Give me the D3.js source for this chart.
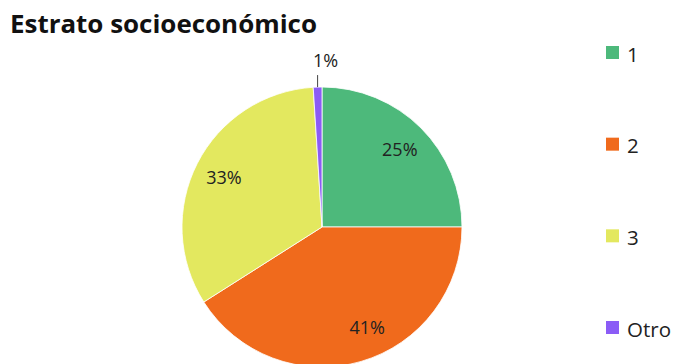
<!DOCTYPE html>
<html>
<head>
<meta charset="utf-8">
<script src="https://cdn.jsdelivr.net/npm/d3@7/dist/d3.min.js"></script>
<style>
  html, body { margin: 0; padding: 0; background: #fff; }
  svg { display: block; }
</style>
</head>
<body>
<svg id="chart" width="674" height="364"></svg>
<script>
// Socio-economic stratum distribution (percent of respondents)
const categories = ["1", "2", "3", "Otro"];
const values = [25, 41, 33, 1];
const colors = ["#4db97b", "#f06a1c", "#e3e85f", "#8b5cf6"];
const titleText = "Estrato socioeconómico";

const svg = d3.select("#chart");
const W = 674, H = 364;
const cx = 322, cy = 227, R = 140;
const font = "'Open Sans', 'Liberation Sans', sans-serif";

svg.append("rect").attr("width", W).attr("height", H).attr("fill", "#fff");

// Title
svg.append("text")
  .attr("x", 10).attr("y", 33)
  .attr("font-family", font).attr("font-weight", 700)
  .attr("font-size", 25).attr("fill", "#111")
  .attr("textLength", 307).attr("lengthAdjust", "spacingAndGlyphs")
  .text(titleText);

const pie = d3.pie().sort(null).value(d => d)(values);
const arc = d3.arc().innerRadius(0).outerRadius(R);

const g = svg.append("g").attr("transform", `translate(${cx},${cy})`);

g.selectAll("path.slice")
  .data(pie)
  .join("path")
  .attr("class", "slice")
  .attr("d", arc)
  .attr("fill", (d, i) => colors[i])
  .attr("stroke", "#fff")
  .attr("stroke-width", 0.8);

// Value labels: inside for large slices, leader line for small ones
pie.forEach((d, i) => {
  const pct = d3.format(".0f")(values[i]) + "%";
  const mid = (d.startAngle + d.endAngle) / 2;
  if (values[i] >= 5) {
    // the bottom label sits a little further toward the right
    const a = i === 1 ? mid - 0.14 : mid;
    const x = 110 * Math.sin(a), y = -110 * Math.cos(a);
    g.append("text")
      .attr("x", x).attr("y", y)
      .attr("text-anchor", "middle").attr("dominant-baseline", "central")
      .attr("font-family", font).attr("font-size", 18).attr("fill", "#222")
      .text(pct);
  } else {
    const x0 = R * Math.sin(mid), y0 = -R * Math.cos(mid);
    const y1 = y0 - 12;
    g.append("line")
      .attr("x1", x0).attr("y1", y0).attr("x2", x0).attr("y2", y1)
      .attr("stroke", "#444").attr("stroke-width", 1);
    g.append("text")
      .attr("x", x0 + 8).attr("y", y1 - 8)
      .attr("text-anchor", "middle")
      .attr("font-family", font).attr("font-size", 18).attr("fill", "#222")
      .text(pct);
  }
});

// Legend
const legendY = d3.scalePoint().domain(categories).range([52.5, 327.5]);
const lg = svg.append("g");
categories.forEach((c, i) => {
  const y = legendY(c);
  lg.append("rect")
    .attr("x", 606).attr("y", y - 6.5).attr("width", 13).attr("height", 13)
    .attr("fill", colors[i]);
  lg.append("text")
    .attr("x", 627).attr("y", y + 1).attr("dominant-baseline", "central")
    .attr("font-family", font).attr("font-size", 20.5).attr("fill", "#222")
    .text(c);
});
</script>
</body>
</html>
